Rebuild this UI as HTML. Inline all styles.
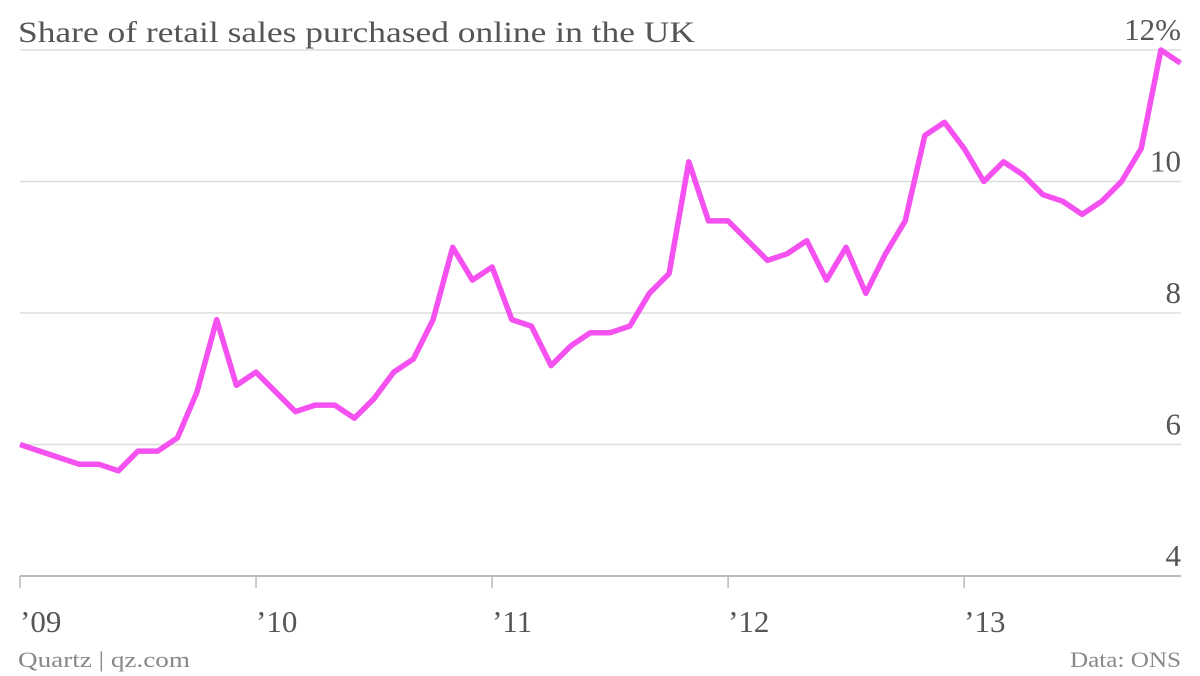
<!DOCTYPE html>
<html><head><meta charset="utf-8"><style>
body{margin:0;background:#fff;}
svg{display:block;font-family:"Liberation Serif",serif;}
</style></head><body>
<svg id="chart" width="1200" height="676">
<text x="18" y="42" font-size="30" fill="#555" textLength="677" lengthAdjust="spacingAndGlyphs">Share of retail sales purchased online in the UK</text>
<g id="grid"></g>
<g id="xaxis"></g>
<path id="line" fill="none" stroke="#f550f0" stroke-width="5.5" stroke-linejoin="round"></path>
<text x="18" y="667" font-size="22" fill="#888" textLength="172" lengthAdjust="spacingAndGlyphs">Quartz | qz.com</text>
<text x="1070" y="667" font-size="22" fill="#888" textLength="111" lengthAdjust="spacingAndGlyphs">Data: ONS</text>
</svg>
<script>
const values=[6.0,5.9,5.8,5.7,5.7,5.6,5.9,5.9,6.1,6.8,7.9,6.9,7.1,6.8,6.5,6.6,6.6,6.4,6.7,7.1,7.3,7.9,9.0,8.5,8.7,7.9,7.8,7.2,7.5,7.7,7.7,7.8,8.3,8.6,10.3,9.4,9.4,9.1,8.8,8.9,9.1,8.5,9.0,8.3,8.9,9.4,10.7,10.9,10.5,10.0,10.3,10.1,9.8,9.7,9.5,9.7,10.0,10.5,12.0,11.8];
const yTicks=[4,6,8,10,12];
const yTickLabels=["4","6","8","10","12%"];
const xTickLabels=["’09","’10","’11","’12","’13"];
const ns="http://www.w3.org/2000/svg";
const y=v=>576-(v-4)*65.75;
const x=i=>20+i*19.67;
const grid=document.getElementById('grid');
yTicks.forEach((t,k)=>{
 const l=document.createElementNS(ns,'line');
 l.setAttribute('x1',20);l.setAttribute('x2',1181);l.setAttribute('y1',y(t));l.setAttribute('y2',y(t));
 l.setAttribute('stroke',k===0?'#bbb':'#ddd');l.setAttribute('stroke-width',k===0?2:1.5);
 
 
 grid.appendChild(l);
 const tx=document.createElementNS(ns,'text');
 tx.setAttribute('x',1181);tx.setAttribute('y',y(t)-10);tx.setAttribute('text-anchor','end');
 tx.setAttribute('font-size','31');tx.setAttribute('fill','#555');
 tx.textContent=yTickLabels[k];
 
 
 grid.appendChild(tx);
});
const xa=document.getElementById('xaxis');
xTickLabels.forEach((s,k)=>{
 const px=x(k*12);
 const l=document.createElementNS(ns,'line');
 l.setAttribute('x1',px);l.setAttribute('x2',px);l.setAttribute('y1',576);l.setAttribute('y2',588);
 l.setAttribute('stroke','#bbb');l.setAttribute('stroke-width',1.5);
 
 
 xa.appendChild(l);
 const tx=document.createElementNS(ns,'text');
 tx.setAttribute('x',px);tx.setAttribute('y',632);
 tx.setAttribute('font-size','31');tx.setAttribute('fill','#555');
 tx.textContent=s;
 
 
 xa.appendChild(tx);
});
document.getElementById('line').setAttribute('d',values.map((v,i)=>(i?'L':'M')+x(i).toFixed(1)+','+y(v).toFixed(1)).join(''));
</script>
</body></html>
